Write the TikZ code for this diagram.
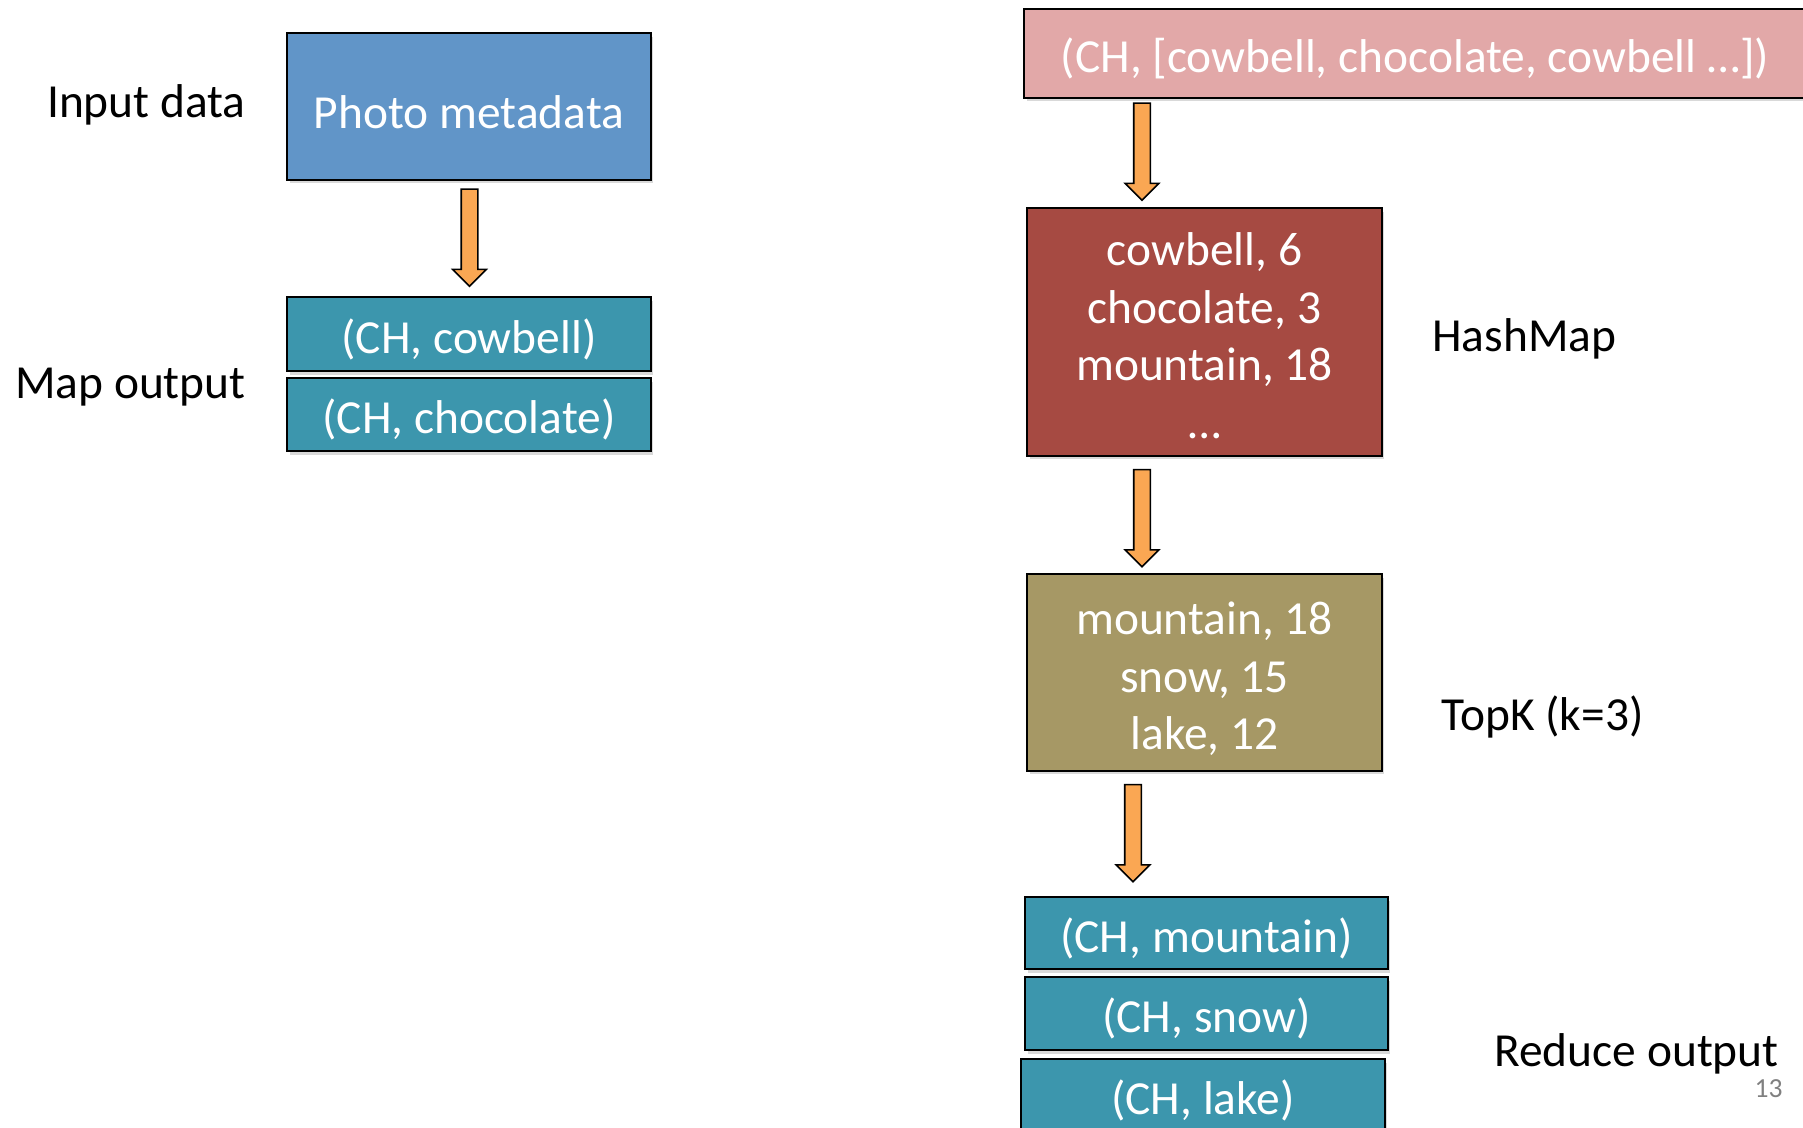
\documentclass[tikz,border=0pt]{standalone}
\usepackage{fontspec}
\setmainfont{Carlito}
\usetikzlibrary{shapes.arrows}
\usetikzlibrary{shadows}

\definecolor{metablue}{RGB}{97,149,200}
\definecolor{pairteal}{RGB}{60,150,173}
\definecolor{listpink}{RGB}{226,168,168}
\definecolor{hashred}{RGB}{166,74,66}
\definecolor{topkolive}{RGB}{166,152,101}
\definecolor{arroworange}{RGB}{250,167,83}

\tikzset{
  kvbox/.style={draw=black,line width=0.9pt,text=white,inner sep=0pt,align=center,
    font=\fontsize{27}{32.7}\selectfont,
    execute at begin node={\rule{0pt}{0.95em}},
    drop shadow={shadow xshift=0.05cm,shadow yshift=-0.07cm,opacity=0.3}},
  pipearrow/.style={single arrow,draw=black,fill=arroworange,line width=0.9pt,rotate=-90,
    inner xsep=0pt,inner ysep=0.15cm,minimum height=1.94cm,minimum width=0.64cm,
    single arrow head extend=0.17cm,single arrow head indent=0cm},
  steplabel/.style={font=\fontsize{27}{32.7}\selectfont,inner sep=0pt}
}

\begin{document}
\begin{tikzpicture}[x=0.02cm,y=-0.02cm]
\useasboundingbox (0,0) rectangle (1803,1127);
\clip (0,0) rectangle (1803,1127);

% map side
\node[steplabel,anchor=base east] (inputlbl) at (246,117) {Input data};
\node[steplabel,anchor=base east] (maplbl) at (246,398) {Map output};
\node[kvbox,fill=metablue,minimum width=7.28cm,minimum height=2.94cm] (photo) at (469,106.5) {Photo metadata};
\node[pipearrow] (arr0) at (469.5,233.5) {};
\node[kvbox,fill=pairteal,minimum width=7.28cm,minimum height=1.48cm] (mapcow) at (469,334) {(CH, cowbell)};
\node[kvbox,fill=pairteal,minimum width=7.28cm,minimum height=1.46cm] (mapchoc) at (469,414.5) {(CH, chocolate)};

% reduce side
\node[kvbox,fill=listpink,minimum width=15.64cm,minimum height=1.78cm] (grouped) at (1415,53.5) {(CH, [cowbell, chocolate, cowbell …])};
\node[pipearrow] (arr1) at (1142,147.5) {};
\node[kvbox,fill=hashred,minimum width=7.1cm,minimum height=4.96cm] (hashmap) at (1204.5,332) {\rule{0pt}{0.85em}cowbell, 6\\chocolate, 3\\mountain, 18\\…};
\node[steplabel,anchor=base west] (hashlbl) at (1432,351) {HashMap};
\node[pipearrow] (arr2) at (1142,514) {};
\node[kvbox,fill=topkolive,minimum width=7.1cm,minimum height=3.94cm] (topk) at (1204.5,672.5) {\rule{0pt}{0.95em}mountain, 18\\snow, 15\\lake, 12};
\node[steplabel,anchor=base west] (topklbl) at (1441,730) {TopK (k=3)};
\node[pipearrow] (arr3) at (1133,829) {};
\node[kvbox,fill=pairteal,minimum width=7.26cm,minimum height=1.44cm] (redmount) at (1206.5,933) {(CH, mountain)};
\node[kvbox,fill=pairteal,minimum width=7.26cm,minimum height=1.46cm] (redsnow) at (1206.5,1013.5) {(CH, snow)};
\node[kvbox,fill=pairteal,minimum width=7.28cm,minimum height=1.46cm] (redlake) at (1203,1095.5) {(CH, lake)};
\node[steplabel,anchor=base west] (reducelbl) at (1494,1066) {Reduce output};

\node[font=\fontsize{15.7}{19}\selectfont,text=black!50,inner sep=0pt,anchor=base east] (pagenum) at (1783,1097) {13};

\end{tikzpicture}
\end{document}
